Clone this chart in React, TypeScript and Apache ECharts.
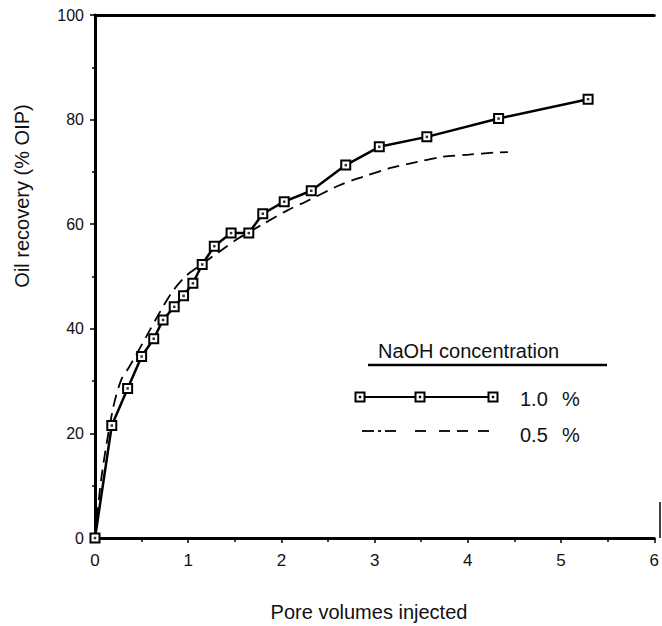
import React, { useEffect, useRef } from "react";
import * as echarts from "echarts";

// Pore volumes injected / oil recovery (% OIP), NaOH 1.0 %
const pv10: number[] = [0, 0.18, 0.35, 0.5, 0.63, 0.73, 0.85, 0.95, 1.05, 1.15, 1.28, 1.46, 1.65, 1.8, 2.03, 2.32, 2.69, 3.05, 3.56, 4.33, 5.29];
const rec10: number[] = [0, 21.5, 28.6, 34.7, 38.1, 41.7, 44.2, 46.3, 48.7, 52.3, 55.8, 58.3, 58.3, 62.0, 64.3, 66.4, 71.3, 74.8, 76.7, 80.2, 83.9];

// NaOH 0.5 % (dashed curve)
const pv05: number[] = [0, 0.07, 0.19, 0.28, 0.37, 0.55, 0.69, 0.83, 0.97, 1.11, 1.33, 1.54, 1.82, 2.07, 2.26, 2.63, 2.88, 3.16, 3.46, 3.73, 4.01, 4.29, 4.43];
const rec05: number[] = [0, 11.7, 24.5, 30.2, 32.8, 38.5, 43.0, 47.1, 50.0, 51.9, 54.7, 57.3, 60.2, 62.7, 64.3, 67.5, 69.1, 70.7, 71.9, 72.9, 73.3, 73.7, 73.8];

const xTicks = { min: 0, max: 6, interval: 1 };
const yTicks = { min: 0, max: 100, interval: 20 };

const xTitle = "Pore volumes injected";
const yTitle = "Oil recovery (% OIP)";
const legendTitle = "NaOH concentration";
const legendLabels = ["1.0", "0.5"];

const FONT = "Liberation Sans";

export default function App() {
  const ref = useRef<HTMLDivElement>(null);
  useEffect(() => {
    if (!ref.current) return;
    const chart = echarts.init(ref.current, undefined, { renderer: "svg" });
    const d10 = pv10.map((x, i) => [x, rec10[i]]);
    const d05 = pv05.map((x, i) => [x, rec05[i]]);
    const markerStyle = { fill: "#fff", stroke: "#000", lineWidth: 2 };
    const dot = (cx: number, cy: number) => ({ type: "rect", shape: { x: cx - 1.2, y: cy - 1.2, width: 2.4, height: 2.4 }, style: { fill: "#000" }, z: 102 });
    const box = (cx: number, cy: number) => ({ type: "rect", shape: { x: cx - 4.5, y: cy - 4.5, width: 9, height: 9 }, style: markerStyle, z: 101 });
    const dash = (x1: number, x2: number, y: number) => ({ type: "line", shape: { x1, y1: y, x2, y2: y }, style: { stroke: "#000", lineWidth: 1.8 }, z: 100 });
    const txt = (x: number, y: number, text: string, align = "left", rotation = 0) => ({
      type: "text", x, y, rotation, z: 100,
      style: { text, fontSize: 20, fontFamily: FONT, fill: "#111", textAlign: align, textVerticalAlign: "middle" },
    });
    chart.setOption({
      animation: false,
      backgroundColor: "#fff",
      textStyle: { fontFamily: FONT },
      grid: { left: 95, right: 1, top: 15, bottom: 88 },
      xAxis: [
        {
          type: "value",
          position: "bottom",
          ...xTicks,
          axisLine: { onZero: false, lineStyle: { color: "#000", width: 3 } },
          axisTick: { show: true, length: 5, lineStyle: { color: "#000", width: 1.5 } },
          minorTick: { show: true, splitNumber: 2, length: 4, lineStyle: { color: "#000", width: 1.5 } },
          axisLabel: { fontSize: 17, color: "#111", margin: 14, fontFamily: FONT },
          splitLine: { show: false },
        },
        {
          type: "value",
          position: "top",
          ...xTicks,
          axisLine: { onZero: false, lineStyle: { color: "#000", width: 3 } },
          axisTick: { show: false },
          axisLabel: { show: false },
          splitLine: { show: false },
        },
      ],
      yAxis: {
        type: "value",
        ...yTicks,
        axisLine: { show: true, onZero: false, lineStyle: { color: "#000", width: 3 } },
        axisTick: { show: true, length: 5, lineStyle: { color: "#000", width: 1.5 } },
        minorTick: { show: true, splitNumber: 2, length: 3, lineStyle: { color: "#000", width: 1.5 } },
        axisLabel: { fontSize: 16, color: "#111", margin: 11, fontFamily: FONT },
        splitLine: { show: false },
      },
      series: [
        {
          name: "0.5 %",
          type: "line",
          data: d05,
          showSymbol: false,
          symbol: "none",
          smooth: 0.3,
          lineStyle: { color: "#000", width: 1.8, type: [12, 7] },
          z: 2,
        },
        {
          name: "1.0 %",
          type: "line",
          data: d10,
          symbol: "rect",
          symbolSize: 9,
          itemStyle: { color: "#fff", borderColor: "#000", borderWidth: 2 },
          lineStyle: { color: "#000", width: 2.5 },
          z: 3,
        },
        {
          name: "1.0 % centre",
          type: "scatter",
          data: d10,
          symbol: "rect",
          symbolSize: 2.5,
          itemStyle: { color: "#000" },
          z: 4,
        },
      ],
      graphic: [
        txt(369, 612, xTitle, "center"),
        txt(22, 196, yTitle, "center", Math.PI / 2),
        { type: "line", shape: { x1: 660, y1: 502, x2: 660, y2: 538 }, style: { stroke: "#000", lineWidth: 1.5 } },
        txt(378, 351, legendTitle),
        { type: "line", shape: { x1: 368, y1: 365, x2: 607, y2: 365 }, style: { stroke: "#000", lineWidth: 2.5 }, z: 100 },
        { type: "line", shape: { x1: 360, y1: 397, x2: 493, y2: 397 }, style: { stroke: "#000", lineWidth: 1.8 }, z: 100 },
        box(360, 397), dot(360, 397),
        box(420, 397), dot(420, 397),
        box(493, 397), dot(493, 397),
        txt(520, 399, legendLabels[0]),
        txt(562, 399, "%"),
        dash(362, 374, 431), dash(378, 381, 431), dash(385, 396, 431),
        dash(415, 426, 431), dash(439, 450, 431), dash(457, 468, 431), dash(478, 489, 431),
        txt(520, 435, legendLabels[1]),
        txt(562, 435, "%"),
      ],
    });
    return () => chart.dispose();
  }, []);
  return <div ref={ref} style={{ position: "absolute", left: 0, top: 0, width: 662, height: 626 }} />;
}
